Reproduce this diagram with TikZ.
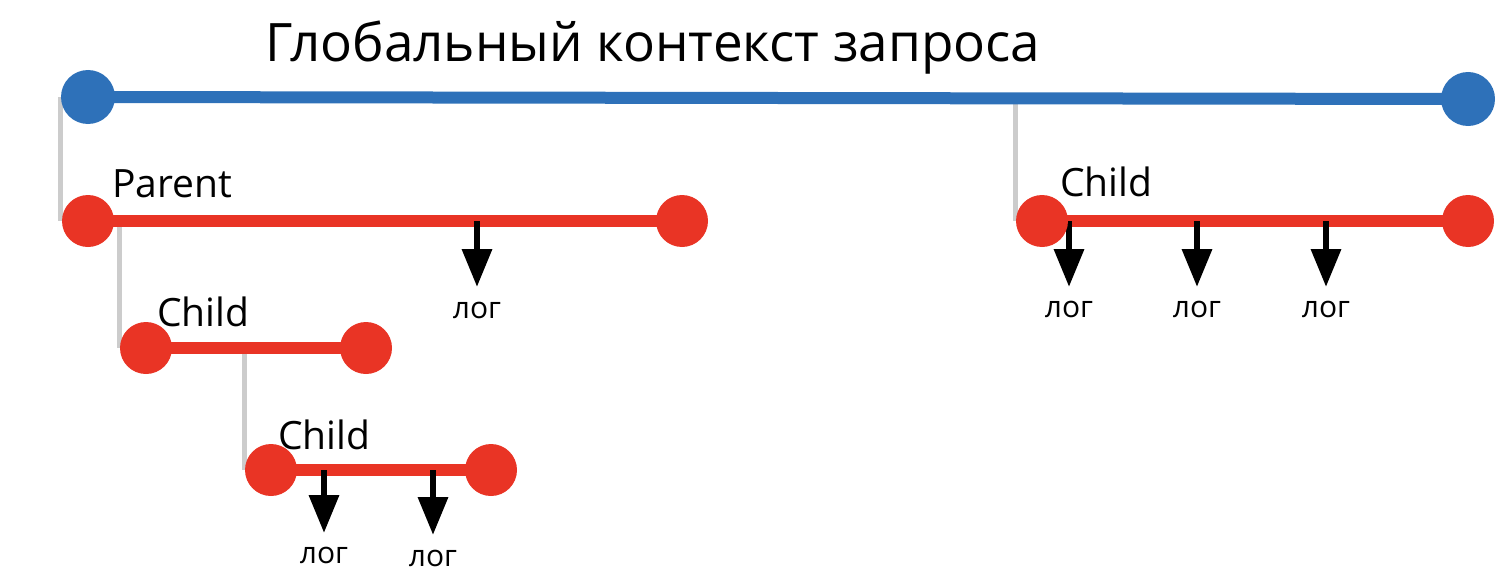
\documentclass[tikz,border=0pt]{standalone}
\usepackage{fontspec}
\setmainfont{Open Sans}
\usetikzlibrary{arrows.meta,backgrounds}
\definecolor{gblue}{HTML}{2E71B9}
\definecolor{sred}{HTML}{E93425}
\definecolor{lgrey}{HTML}{CCCCCC}
\tikzset{
  bluedot/.style={circle,fill=gblue,minimum size=54pt,inner sep=0pt},
  reddot/.style={circle,fill=sred,minimum size=52pt,inner sep=0pt},
  blueline/.style={draw=gblue,line width=12pt},
  redline/.style={draw=sred,line width=12pt},
  greyline/.style={draw=lgrey,line width=5pt},
  logarrow/.style={draw=black,line width=6.5pt,-{Triangle[width=29pt,length=38pt]}},
  spanlbl/.style={anchor=base west,inner sep=0pt,font=\fontsize{39}{41}\selectfont},
  loglbl/.style={anchor=base,inner sep=0pt,font=\fontsize{30}{32}\selectfont},
  titlelbl/.style={anchor=base,inner sep=0pt,font=\fontsize{53}{57}\selectfont}
}
\begin{document}
\begin{tikzpicture}[x=1pt,y=-1pt]
\useasboundingbox (0,0) rectangle (1504,586);
% title
\node[titlelbl] (title) at (653,62) {Глобальный контекст запроса};
% global span
\node[bluedot] (g1) at (88,97) {};
\node[bluedot] (g2) at (1468,99) {};
% parent span
\node[reddot] (p1) at (88,221) {};
\node[reddot] (p2) at (682,221) {};
\node[spanlbl] (plbl) at (112,197) {Parent};
% child 1
\node[reddot] (c1a) at (146,348) {};
\node[reddot] (c1b) at (366,348) {};
\node[spanlbl] (c1lbl) at (157,326) {Child};
% child 2
\node[reddot] (c2a) at (271,470) {};
\node[reddot] (c2b) at (491,470) {};
\node[spanlbl] (c2lbl) at (278,449) {Child};
% right child
\node[reddot] (c3a) at (1042,221) {};
\node[reddot] (c3b) at (1468,221) {};
\node[spanlbl] (c3lbl) at (1060,196) {Child};
% arrow ends
\coordinate (ap1) at (477,287);
\coordinate (ac2a) at (324,533);
\coordinate (ac2b) at (433,535);
\coordinate (ac3a) at (1069,287);
\coordinate (ac3b) at (1197,287);
\coordinate (ac3c) at (1326,287);
% log labels
\node[loglbl] (lp1) at (477,318) {лог};
\node[loglbl] (lc2a) at (324,563) {лог};
\node[loglbl] (lc2b) at (433,566) {лог};
\node[loglbl] (lc3a) at (1069,317) {лог};
\node[loglbl] (lc3b) at (1197,317) {лог};
\node[loglbl] (lc3c) at (1326,317) {лог};
\begin{scope}[on background layer]
  \draw[greyline] (g1.west) -- (g1.west |- p1.center);
  \draw[greyline] (c1a.west |- p1.center) -- (c1a.west);
  \draw[greyline] (c2a.west |- c1a.center) -- (c2a.west);
  \draw[greyline] (c3a.west |- g1.center) -- (c3a.west);
  \draw[blueline] (g1.center) -- (g2.center);
  \draw[redline] (p1.center) -- (p2.center);
  \draw[redline] (c1a.center) -- (c1b.center);
  \draw[redline] (c2a.center) -- (c2b.center);
  \draw[redline] (c3a.center) -- (c3b.center);
  \draw[logarrow] (p1.center -| ap1) -- (ap1);
  \draw[logarrow] (c2a.center -| ac2a) -- (ac2a);
  \draw[logarrow] (c2a.center -| ac2b) -- (ac2b);
  \draw[logarrow] (c3a.center -| ac3a) -- (ac3a);
  \draw[logarrow] (c3a.center -| ac3b) -- (ac3b);
  \draw[logarrow] (c3a.center -| ac3c) -- (ac3c);
\end{scope}
\end{tikzpicture}
\end{document}
